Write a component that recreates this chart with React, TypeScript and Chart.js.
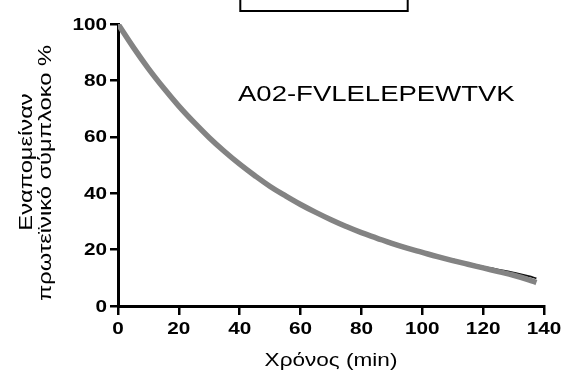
import React, { useEffect, useRef } from "react";
import { Chart, registerables } from "chart.js";

Chart.register(...registerables);

const timeMin = [0, 5, 10, 15, 20, 25, 30, 35, 40, 45, 50, 55, 60, 65, 70, 75, 80, 85, 90, 95, 100, 105, 110, 115, 120, 125, 130, 135, 137.5];
const measured = [100, 91.8, 84.2, 77.3, 70.9, 65.1, 59.7, 54.8, 50.3, 46.2, 42.4, 39.1, 36.0, 33.2, 30.6, 28.2, 26.0, 24.1, 22.2, 20.5, 19.0, 17.5, 16.1, 14.8, 13.5, 12.2, 10.9, 9.3, 8.3];
const fitted = [100, 91.6, 84.0, 77.1, 70.8, 65.0, 59.7, 54.9, 50.4, 46.4, 42.7, 39.3, 36.2, 33.4, 30.8, 28.4, 26.2, 24.2, 22.4, 20.7, 19.2, 17.8, 16.5, 15.2, 14.0, 12.9, 11.8, 10.6, 9.8];
const xTicks = [0, 20, 40, 60, 80, 100, 120, 140];
const yTicks = [0, 20, 40, 60, 80, 100];
const xTitle = "Χρόνος (min)";
const yTitleLines = ["Εναπομείναν", "πρωτεϊνικό σύμπλοκο %"];
const annotation = "A02-FVLELEPEWTVK";

const FONT = '"Liberation Sans", Arial, sans-serif';

function stretchedText(
  ctx: CanvasRenderingContext2D,
  text: string,
  x: number,
  y: number,
  font: string,
  stretch: number,
  align: CanvasTextAlign,
  rot = 0
) {
  ctx.save();
  ctx.translate(x, y);
  if (rot) ctx.rotate(rot);
  ctx.scale(stretch, 1);
  ctx.font = font;
  ctx.textAlign = align;
  ctx.textBaseline = "middle";
  ctx.fillStyle = "#000";
  ctx.fillText(text, 0, 0);
  ctx.restore();
}

const textPlugin = {
  id: "textPlugin",
  afterDraw(chart: any) {
    const ctx = chart.ctx as CanvasRenderingContext2D;
    const xs = chart.scales.x;
    const ys = chart.scales.y;
    const area = chart.chartArea;
    const tickFont = `bold 17px ${FONT}`;
    yTicks.forEach((v) => {
      stretchedText(ctx, String(v), area.left - 11, ys.getPixelForValue(v) + 1, tickFont, 1.22, "right");
    });
    xTicks.forEach((v) => {
      stretchedText(ctx, String(v), xs.getPixelForValue(v), area.bottom + 23, tickFont, 1.22, "center");
    });
    stretchedText(ctx, xTitle, (area.left + area.right) / 2, 361, `18.5px ${FONT}`, 1.22, "center");
    const cy = (area.top + area.bottom) / 2;
    stretchedText(ctx, yTitleLines[0], 27, cy - 3, `18.5px ${FONT}`, 1.28, "center", -Math.PI / 2);
    stretchedText(ctx, yTitleLines[1], 46, cy + 8, `18.5px ${FONT}`, 1.28, "center", -Math.PI / 2);
    stretchedText(ctx, annotation, 238, 95, `22px ${FONT}`, 1.25, "left");
    ctx.save();
    ctx.strokeStyle = "#000";
    ctx.lineWidth = 2;
    ctx.strokeRect(240.3, -5, 167.4, 16);
    ctx.restore();
  },
};

export default function App() {
  const ref = useRef<HTMLCanvasElement | null>(null);
  useEffect(() => {
    if (!ref.current) return;
    const chart = new Chart(ref.current, {
      type: "line",
      data: {
        labels: timeMin,
        datasets: [
          {
            label: "measured",
            data: timeMin.map((t, i) => ({ x: t, y: measured[i] })),
            borderColor: "#838383",
            borderWidth: 5.5,
            pointRadius: 0,
            tension: 0.4,
            fill: false,
          },
          {
            label: "fit",
            data: timeMin.map((t, i) => ({ x: t, y: fitted[i] })),
            borderColor: "#111",
            borderWidth: 1.8,
            pointRadius: 0,
            tension: 0.4,
            fill: false,
          },
        ],
      },
      options: {
        animation: false,
        responsive: false,
        maintainAspectRatio: false,
        layout: { padding: { left: 0, top: 24, right: 21, bottom: 0 } },
        plugins: { legend: { display: false }, tooltip: { enabled: false }, title: { display: false } },
        scales: {
          x: {
            type: "linear",
            min: 0,
            max: 140,
            afterBuildTicks: (s: any) => {
              s.ticks = xTicks.map((v) => ({ value: v }));
            },
            afterFit: (s: any) => {
              s.height = 66;
              s.paddingLeft = 0;
              s.paddingRight = 0;
              s.paddingTop = 0;
              s.paddingBottom = 0;
            },
            ticks: { color: "rgba(0,0,0,0)", font: { size: 12 } },
            grid: { drawOnChartArea: false, drawTicks: true, tickLength: 9, lineWidth: 2.5, color: "#000" },
            border: { display: true, width: 3, color: "#000" },
          },
          y: {
            type: "linear",
            min: 0,
            max: 100,
            afterBuildTicks: (s: any) => {
              s.ticks = yTicks.map((v) => ({ value: v }));
            },
            afterFit: (s: any) => {
              s.width = 118;
              s.paddingLeft = 0;
              s.paddingRight = 0;
              s.paddingTop = 0;
              s.paddingBottom = 0;
            },
            ticks: { color: "rgba(0,0,0,0)", font: { size: 12 } },
            grid: { drawOnChartArea: false, drawTicks: true, tickLength: 8, lineWidth: 2.5, color: "#000" },
            border: { display: true, width: 3, color: "#000" },
          },
        },
      },
      plugins: [textPlugin],
    });
    return () => chart.destroy();
  }, []);
  return (
    <div style={{ position: "fixed", left: 0, top: 0, width: 565, height: 372, background: "#fff" }}>
      <canvas ref={ref} width={565} height={372} style={{ width: 565, height: 372, display: "block" }} />
    </div>
  );
}
